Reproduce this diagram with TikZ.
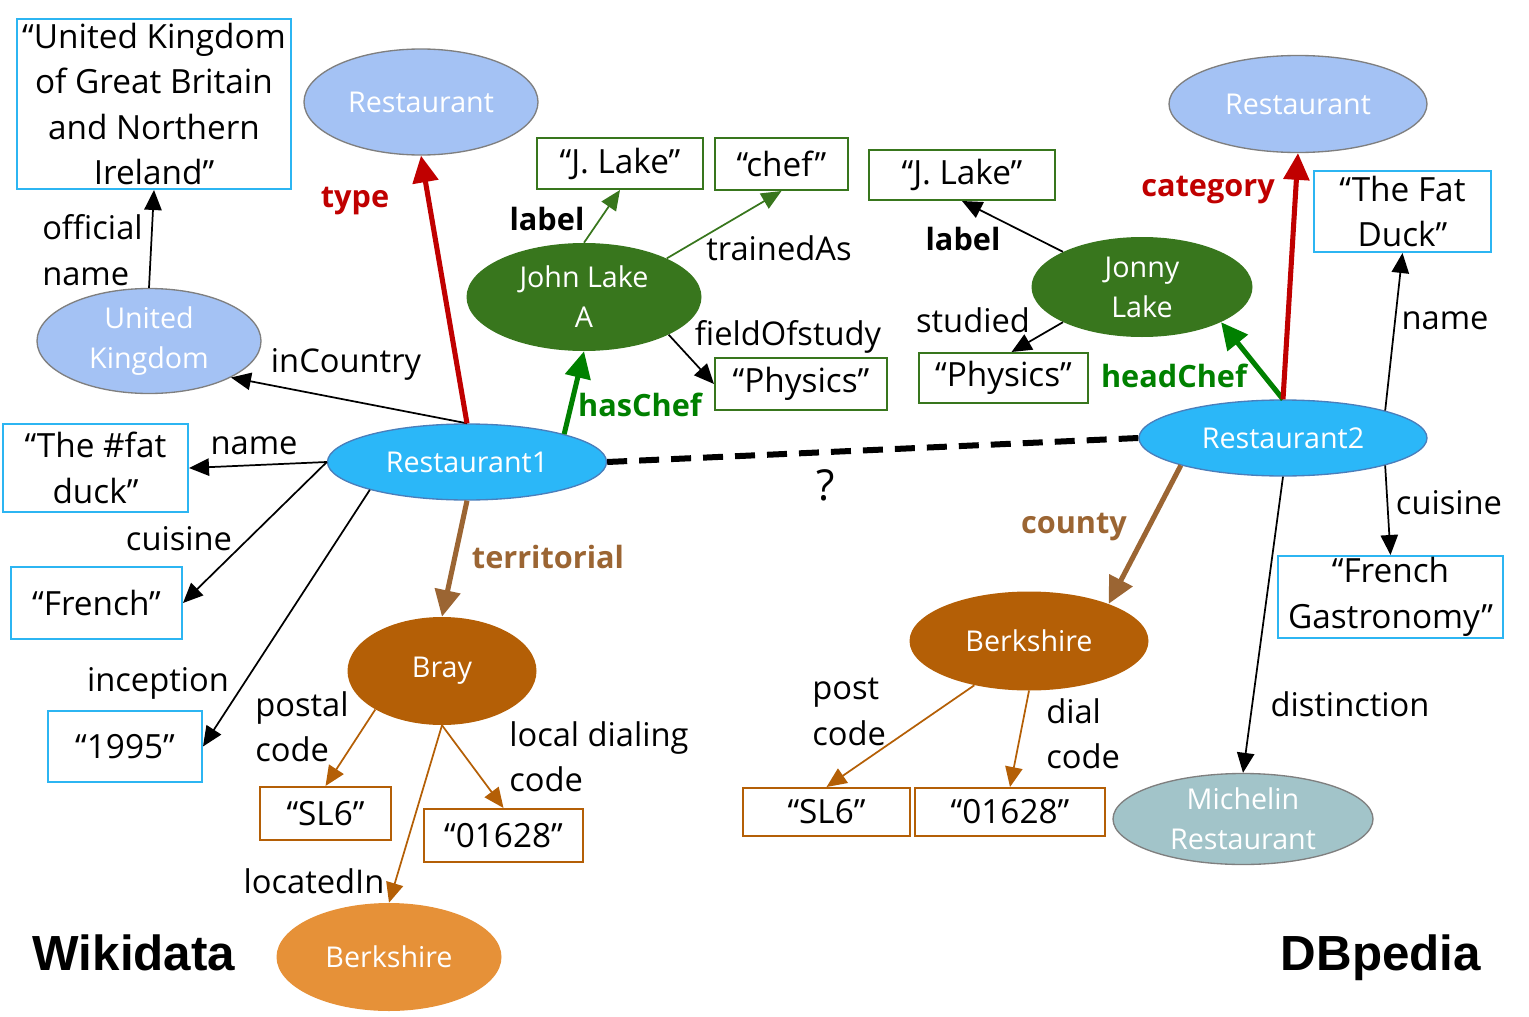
\documentclass[tikz,border=0pt]{standalone}
\usepackage{fontspec}
\setmainfont{Open Sans}
\newfontfamily\headfont{Liberation Sans}
\usetikzlibrary{shapes.geometric,arrows.meta}
\definecolor{lblue}{HTML}{A4C2F4}
\definecolor{sky}{HTML}{2BB7F8}
\definecolor{skyborder}{HTML}{4A7EBB}
\definecolor{boxblue}{HTML}{2CB5F2}
\definecolor{dgreen}{HTML}{38761D}
\definecolor{bgreen}{HTML}{008000}
\definecolor{dred}{HTML}{C00000}
\definecolor{brn}{HTML}{9B6533}
\definecolor{orng}{HTML}{B45F06}
\definecolor{lorng}{HTML}{E69138}
\definecolor{tealc}{HTML}{A2C4C9}
\definecolor{gborder}{HTML}{7F7F7F}
\tikzset{
  sz/.style 2 args={minimum width=#1*0.75pt,minimum height=#2*0.75pt},
  txt/.style={font=\fontsize{24.5}{34}\selectfont, inner sep=0pt, align=left},
  btxt/.style={font=\fontsize{23}{34}\selectfont\bfseries, inner sep=0pt},
  lit/.style={draw, rectangle, line width=1.5pt, inner sep=0pt, align=center, font=\fontsize{25}{34}\selectfont},
  ell/.style={ellipse, inner sep=0pt, align=center, text=white, font=\fontsize{21.5}{30}\selectfont},
  lbell/.style={ell, fill=lblue, draw=gborder, line width=1pt},
  skyell/.style={ell, fill=sky, draw=skyborder, line width=1pt},
  thinarr/.style={line width=1.3pt, -{Triangle[length=15pt,width=13pt]}},
  thickarr/.style={line width=3.8pt, -{Triangle[length=20pt,width=19pt]}},
}
\begin{document}
\begin{tikzpicture}[x=0.75pt,y=-0.75pt]
\useasboundingbox (0,0) rectangle (1529,1017);

% ---------- Wikidata side ----------
\node[lit, draw=boxblue, sz={274}{170}] (ukbox) at (154,104) {“United Kingdom\\of Great Britain\\and Northern\\Ireland”};
\node[lbell, sz={234}{106}] (restL) at (421,102) {Restaurant};
\node[lbell, sz={224}{105}] (uk) at (149,341) {United\\Kingdom};
\node[skyell, sz={279}{76}] (r1) at (467,462) {Restaurant1};
\node[lit, draw=boxblue, sz={185}{88}] (fat) at (95.5,468) {“The \#fat\\duck”};
\node[lit, draw=boxblue, sz={171}{72}] (fr) at (96.5,603) {“French”};
\node[lit, draw=boxblue, sz={154}{71}] (yr) at (125,746.5) {“1995”};
\node[ell, fill=orng, sz={189}{108}] (bray) at (442,671) {Bray};
\node[lit, draw=orng, sz={131}{53}] (sl6L) at (325.5,813.5) {“SL6”};
\node[lit, draw=orng, sz={159}{53}] (dialL) at (503.5,835.5) {“01628”};
\node[ell, fill=lorng, sz={225}{108}] (berkL) at (389,957) {Berkshire};
\node[ell, fill=dgreen, sz={235}{108}] (john) at (584,297) {John Lake\\A};
\node[lit, draw=dgreen, sz={166}{51}] (jlL) at (620,163.5) {“J. Lake”};
\node[lit, draw=dgreen, sz={133}{52}] (chef) at (781.5,164) {“chef”};
\node[lit, draw=dgreen, sz={172}{52}] (physL) at (801,384) {“Physics”};

% ---------- DBpedia side ----------
\node[lbell, sz={258}{97}] (restR) at (1298,104) {Restaurant};
\node[ell, fill=dgreen, sz={221}{100}] (jonny) at (1142,287) {Jonny\\Lake};
\node[lit, draw=dgreen, sz={186}{50}] (jlR) at (962,175) {“J. Lake”};
\node[lit, draw=dgreen, sz={169}{50}] (physR) at (1003.5,378) {“Physics”};
\node[skyell, sz={288}{76}] (r2) at (1283,438) {Restaurant2};
\node[lit, draw=boxblue, sz={177}{81}] (duck) at (1402.5,211.5) {“The Fat\\Duck”};
\node[lit, draw=boxblue, sz={225}{82}] (gastro) at (1390.5,597) {“French\\Gastronomy”};
\node[ell, fill=tealc, draw=gborder, line width=1pt, sz={260}{91}] (mich) at (1243,819) {Michelin\\Restaurant};
\node[ell, fill=orng, sz={239}{99}] (berkR) at (1029,641) {Berkshire};
\node[lit, draw=orng, sz={167}{48}] (sl6R) at (826.5,812) {“SL6”};
\node[lit, draw=orng, sz={190}{48}] (dialR) at (1010,812) {“01628”};

% ---------- connectors, Wikidata ----------
\draw[thinarr] (uk.north) -- (ukbox.south);
\draw[thinarr] (r1.north) -- (uk.-24);
\draw[thickarr, dred] (r1.north) -- (restL.south);
\draw[thinarr] (r1.west) -- (fat.east);
\draw[thinarr] (r1.west) -- (fr.east);
\draw[thinarr] (r1.196) -- (yr.east);
\draw[thickarr, brn] (r1.south) -- (bray.north);
\draw[thinarr, orng] (bray.210) -- (sl6L.north);
\draw[thinarr, orng] (bray.south) -- (dialL.north);
\draw[thinarr, orng] (bray.south) -- (berkL.north);
\draw[thickarr, bgreen] (r1.16) -- (john.south);
\draw[thinarr, dgreen] (john.north) -- (jlL.south);
\draw[thinarr, dgreen] (john.25) -- (chef.south);
\draw[thinarr] (john.-24) -- (physL.west);

% ---------- connectors, DBpedia ----------
\draw[thinarr] (jonny.156) -- (jlR.south);
\draw[thinarr] (jonny.204) -- ([xshift=6pt]physR.north);
\draw[thickarr, bgreen] (r2.north) -- (jonny.-24);
\draw[thickarr, dred] (r2.north) -- (restR.south);
\draw[thinarr] (r2.15) -- (duck.south);
\draw[thinarr] (r2.-15) -- (gastro.north);
\draw[thinarr] (r2.south) -- (mich.north);
\draw[thickarr, brn] (r2.195) -- (berkR.25);
\draw[thinarr, orng] (berkR.219) -- (sl6R.north);
\draw[thinarr, orng] (berkR.south) -- (dialR.north);

% ---------- dashed link ----------
\draw[line width=4.5pt, dash pattern=on 15pt off 9pt] (r1.east) -- (r2.west);

% ---------- labels ----------
\node[txt, anchor=west] (lofn) at (42,250) {official\\name};
\node[btxt, text=dred] (ltype) at (355,201) {type};
\node[txt] (lincountry) at (346,364) {inCountry};
\node[txt] (lname1) at (254,446) {name};
\node[txt] (lcuis1) at (179,539) {cuisine};
\node[txt] (lincep) at (158,683) {inception};
\node[btxt, text=brn] (lterr) at (548,557) {territorial};
\node[txt, anchor=west] (lpostal) at (255,727) {postal\\code};
\node[txt, anchor=west] (llocal) at (509,757) {local dialing\\code};
\node[txt] (lloc) at (314,881) {locatedIn};
\node[btxt] (llab1) at (547,219) {label};
\node[txt] (ltrain) at (779,248) {trainedAs};
\node[txt] (lfield) at (788,337) {fieldOfstudy};
\node[btxt, text=bgreen] (lhas) at (640,405) {hasChef};
\node[font=\fontsize{32}{36}\selectfont, inner sep=0pt] (lq) at (826,485) {?};
\node[btxt] (llab2) at (963,239) {label};
\node[txt] (lstud) at (973,320) {studied};
\node[btxt, text=bgreen] (lhead) at (1174,376) {headChef};
\node[btxt, text=dred] (lcat) at (1208,190) {category};
\node[txt] (lname2) at (1445,321) {name};
\node[txt] (lcuis2) at (1449,503) {cuisine};
\node[txt] (ldist) at (1350,704) {distinction};
\node[btxt, text=brn] (lcounty) at (1074,527) {county};
\node[txt, anchor=west] (lpost) at (812,712) {post\\code};
\node[txt, anchor=west] (ldial) at (1046,734) {dial\\code};
\node[font=\headfont\fontsize{37}{40}\selectfont\bfseries, inner sep=0pt] (wiki) at (134,953) {Wikidata};
\node[font=\headfont\fontsize{37}{40}\selectfont\bfseries, inner sep=0pt] (dbp) at (1381,958) {DBpedia};
\end{tikzpicture}
\end{document}
